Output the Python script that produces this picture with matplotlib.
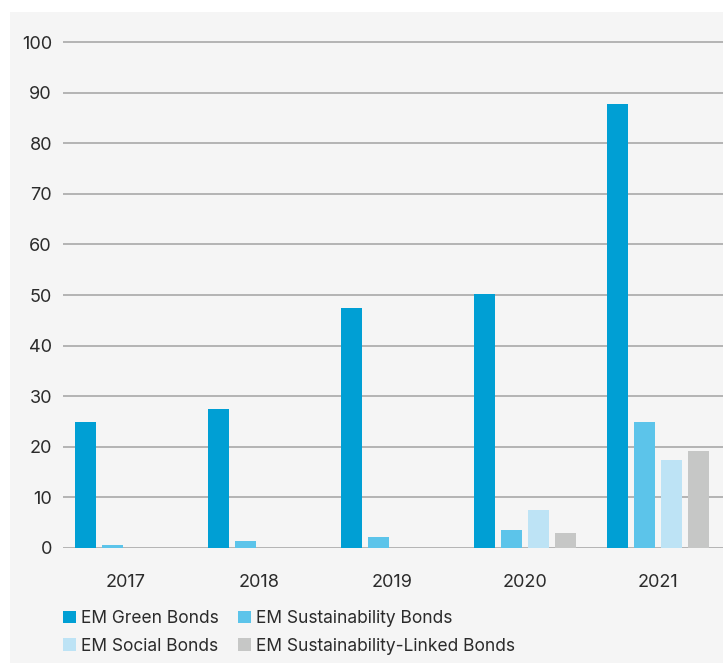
import matplotlib
matplotlib.use("Agg")
import matplotlib.pyplot as plt
import numpy as np
from matplotlib.patches import Rectangle

years = ["2017", "2018", "2019", "2020", "2021"]
green = [24.9, 27.5, 47.4, 50.2, 87.7]
sustainability = [0.6, 1.4, 2.2, 3.6, 24.9]
social = [0, 0, 0, 7.5, 17.4]
linked = [0, 0, 0, 3.0, 19.2]
series_names = ["EM Green Bonds", "EM Sustainability Bonds",
                "EM Social Bonds", "EM Sustainability-Linked Bonds"]
colors = ["#009fd4", "#5cc4ea", "#bde3f5", "#c6c7c6"]

plt.rcParams['font.family'] = ['Inter', 'DejaVu Sans']
txt = "#2b2b2b"

fig = plt.figure(figsize=(7.23, 6.63), dpi=100)
fig.patch.set_facecolor("white")
fig.patches.append(Rectangle((10/723, 0), 1, 1 - 12/663, transform=fig.transFigure,
                             facecolor="#f5f5f5", edgecolor="none", zorder=-10))

ax = fig.add_axes([63/723, 115/663, 660/723, (548 - 39.5)/663])
ax.set_facecolor("none")

x = np.arange(len(years))
w = 0.158
step = 0.203
data = [green, sustainability, social, linked]
handles = []
for i, (vals, c, name) in enumerate(zip(data, colors, series_names)):
    offs = (i - 1.5) * step
    vv = [v if v > 0 else np.nan for v in vals]
    h = ax.bar(x + offs, vv, width=w, color=c, label=name, zorder=3)
    handles.append(h)

ax.set_xlim(-0.474, 4.489)
ax.set_ylim(0, 100.5)
ax.set_yticks(range(0, 101, 10))
ax.yaxis.grid(True, color="#b4b4b4", linewidth=1.4, zorder=1)
ax.set_axisbelow(True)
for s in ax.spines.values():
    s.set_visible(False)
ax.set_xticks(x)
ax.set_xticklabels(years)
ax.tick_params(axis='both', length=0, labelsize=13, colors=txt)
ax.tick_params(axis='y', pad=8)
ax.tick_params(axis='x', pad=19)

order = [0, 2, 1, 3]
leg = fig.legend(handles=[handles[i] for i in order],
                 labels=[series_names[i] for i in order], ncol=2,
                 loc="upper left", bbox_to_anchor=(63/723, 1 - 610/663),
                 frameon=False, fontsize=12.5, handlelength=0.75, handleheight=0.75,
                 handletextpad=0.3, columnspacing=1.1, labelspacing=0.62,
                 borderaxespad=0, borderpad=0)
for t in leg.get_texts():
    t.set_color(txt)

fig.savefig("out.png", dpi=100)
